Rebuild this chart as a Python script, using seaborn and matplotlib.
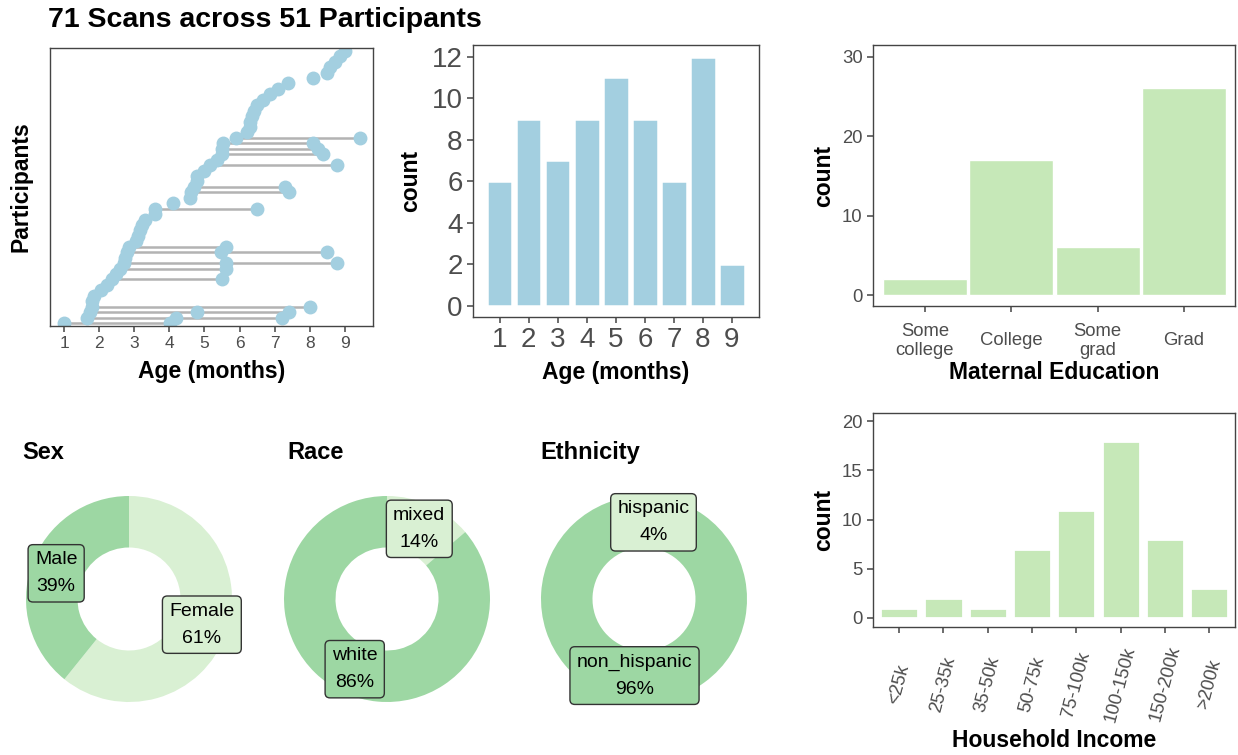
import matplotlib
matplotlib.use("Agg")
import matplotlib.pyplot as plt
import numpy as np
import pandas as pd
import seaborn as sns

sns.set_theme(style="ticks")
plt.rcParams["font.family"] = ["Liberation Sans", "DejaVu Sans"]
plt.rcParams["text.color"] = "black"

# ---- data ----
# first scan age (months) per participant, sorted
first_age = [
    1.0, 1.66, 1.75, 1.8, 1.8, 1.85, 2.04, 2.23, 2.37, 2.47,
    2.6, 2.7, 2.75, 2.8, 2.85, 3.04, 3.1, 3.15, 3.23, 3.32,
    3.6, 3.6, 4.1, 4.6, 4.62, 4.7, 4.79, 4.8, 4.98, 5.17,
    5.36, 5.5, 5.5, 5.52, 5.9, 6.2, 6.3, 6.3, 6.35, 6.4,
    6.49, 6.68, 6.87, 7.1, 7.39, 8.1, 8.48, 8.57, 8.72, 8.86, 9.0,
]
# later scans: participant number and age
repeat_pid = [1, 2, 2, 3, 3, 4, 9, 11, 12, 12, 14, 14, 15, 22, 25, 26, 30, 32, 33, 34, 35]
repeat_age = [4.03, 4.2, 7.2, 4.79, 7.42, 8.0, 5.5, 5.6, 5.6, 8.78, 5.47, 8.48, 5.6,
              6.49, 7.4, 7.3, 8.78, 8.39, 8.22, 8.1, 9.43]

hist_age = [1, 2, 3, 4, 5, 6, 7, 8, 9]
hist_count = [6, 9, 7, 9, 11, 9, 6, 12, 2]

edu_levels = ["Some\ncollege", "College", "Some\ngrad", "Grad"]
edu_count = [2, 17, 6, 26]

income_levels = ["<25k", "25-35k", "35-50k", "50-75k", "75-100k", "100-150k", "150-200k", ">200k"]
income_count = [1, 2, 1, 7, 11, 18, 8, 3]

sex_labels = ["Female", "Male"]
sex_count = [31, 20]
race_labels = ["mixed", "white"]
race_count = [7, 44]
eth_labels = ["hispanic", "non_hispanic"]
eth_count = [2, 49]

BLUE = "#a3cfe0"
GREEN_BAR = "#c6e8b8"
GREEN_DARK = "#9dd7a3"
GREEN_LIGHT = "#d9f0d3"
FRAME = "#444444"
TICKTXT = "#4d4d4d"

W, H = 1238, 755
fig = plt.figure(figsize=(W / 100, H / 100), dpi=100)


def add_ax(x0, y0, x1, y1):
    return fig.add_axes([x0 / W, 1 - y1 / H, (x1 - x0) / W, (y1 - y0) / H])


def style(ax, tsize):
    for s in ax.spines.values():
        s.set_visible(True)
        s.set_color(FRAME)
        s.set_linewidth(1.0)
    ax.tick_params(colors=FRAME, labelcolor=TICKTXT, length=4, width=1.1, labelsize=tsize)
    ax.grid(False)


def place_labels(ax, xl, yl, dx, dy):
    bb = ax.get_position()
    wpx, hpx = bb.width * W, bb.height * H
    ax.set_xlabel(xl, fontsize=16.5, fontweight="bold", color="black")
    ax.set_ylabel(yl, fontsize=16.5, fontweight="bold", color="black")
    ax.xaxis.set_label_coords(0.5, -dy / hpx)
    ax.yaxis.set_label_coords(-dx / wpx, 0.5)


# ---- 1. dumbbell: scans per participant ----
pids = list(range(1, len(first_age) + 1))
scans = pd.DataFrame({"pid": pids + repeat_pid, "age": first_age + repeat_age})
span = scans.groupby("pid")["age"].agg(["min", "max"])
span = span[span["max"] > span["min"]]

ax1 = add_ax(50, 48, 373, 326)
ax1.hlines(span.index, span["min"], span["max"], color="#b3b3b3", lw=1.8, zorder=1)
sns.scatterplot(data=scans, x="age", y="pid", color=BLUE, s=100, linewidth=0, alpha=1,
                ax=ax1, zorder=2)
ax1.set_xlim(0.6, 9.8)
ax1.set_ylim(0.45, 51.5)
ax1.set_xticks(range(1, 10))
ax1.set_yticks([])
style(ax1, 12.5)
place_labels(ax1, "Age (months)", "Participants", 17, 34)

# ---- 2. histogram of scan ages ----
ax2 = add_ax(473, 45, 759, 317)
sns.barplot(x=hist_age, y=hist_count, color=BLUE, width=0.88, edgecolor="white",
            linewidth=1.8, saturation=1, ax=ax2)
ax2.set_xlim(-0.915, 8.93)
ax2.set_ylim(-0.55, 12.56)
ax2.set_yticks(range(0, 13, 2))
style(ax2, 20)
place_labels(ax2, "Age (months)", "count", 51, 44)

# ---- 3. maternal education ----
ax3 = add_ax(873, 45, 1235, 306)
sns.barplot(x=edu_levels, y=edu_count, order=edu_levels, color=GREEN_BAR, width=0.975,
            edgecolor="white", linewidth=1, saturation=1, ax=ax3)
ax3.set_xlim(-0.6, 3.59)
ax3.set_ylim(-1.38, 31.47)
ax3.set_yticks([0, 10, 20, 30])
style(ax3, 13.3)
ax3.tick_params(axis="x", pad=21)
for t in ax3.get_xticklabels():
    t.set_va("center")
    t.set_linespacing(1.15)
place_labels(ax3, "Maternal Education", "count", 38, 55)

# ---- 4. household income ----
ax4 = add_ax(873, 413, 1235, 627)
sns.barplot(x=income_levels, y=income_count, order=income_levels, color=GREEN_BAR, width=0.86,
            edgecolor="white", linewidth=2, saturation=1, ax=ax4)
ax4.set_xlim(-0.59, 7.58)
ax4.set_ylim(-0.95, 20.85)
ax4.set_yticks([0, 5, 10, 15, 20])
style(ax4, 13.3)
ax4.tick_params(axis="x", pad=37)
for t in ax4.get_xticklabels():
    t.set_rotation(75)
    t.set_ha("center")
    t.set_va("center")
    t.set_rotation_mode("anchor")
place_labels(ax4, "Household Income", "count", 38, 102)

# ---- 5. donuts ----
R = 103


def donut(cx, cy, title, tx, labels, counts, colors):
    ax = add_ax(cx - R, cy - R, cx + R, cy + R)
    ax.pie(counts, colors=colors, startangle=90, counterclock=False, radius=1,
           wedgeprops=dict(width=0.5, linewidth=0))
    ax.set_xlim(-1, 1)
    ax.set_ylim(-1, 1)
    ax.set_aspect("auto")
    total = sum(counts)
    start = 0.0
    for lab, c, col in zip(labels, counts, colors):
        frac = c / total
        mid = (start + frac / 2) * 2 * np.pi
        start += frac
        ax.text(0.75 * np.sin(mid), 0.75 * np.cos(mid), f"{lab}\n{round(100 * frac)}%",
                ha="center", va="center", fontsize=14, linespacing=1.75, color="black",
                bbox=dict(boxstyle="round,pad=0.35,rounding_size=0.25", fc=col, ec="#333333", lw=1))
    fig.text(tx / W, 1 - 459 / H, title, fontsize=17, fontweight="bold", va="baseline",
             color="black")


donut(129, 599, "Sex", 22, sex_labels, sex_count, [GREEN_LIGHT, GREEN_DARK])
donut(387, 599, "Race", 287, race_labels, race_count, [GREEN_LIGHT, GREEN_DARK])
donut(644, 599, "Ethnicity", 540, eth_labels, eth_count, [GREEN_LIGHT, GREEN_DARK])

fig.text(48 / W, 1 - 27 / H, "71 Scans across 51 Participants", fontsize=20.5,
         fontweight="bold", va="baseline", color="black")

fig.savefig("out.png", dpi=100)
